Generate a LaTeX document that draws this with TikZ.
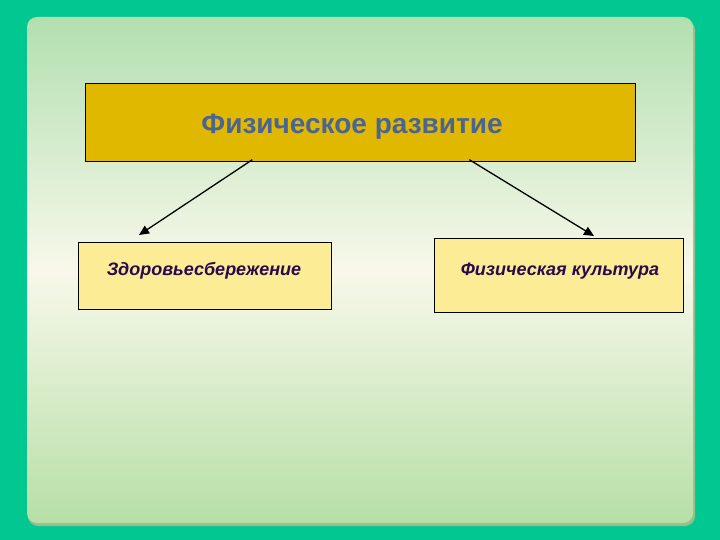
\documentclass[tikz,border=0pt]{standalone}
\usepackage{fontspec}
\setmainfont{Liberation Sans}
\usetikzlibrary{arrows.meta}
\definecolor{outer}{HTML}{00C890}
\definecolor{gtop}{HTML}{B2DFB0}
\definecolor{gmid}{HTML}{F8F8EA}
\definecolor{gbot}{HTML}{B6DFA6}
\definecolor{gold}{HTML}{E0B800}
\definecolor{pale}{HTML}{FCEC96}
\definecolor{ttl}{HTML}{4A6494}
\definecolor{sub}{HTML}{2A0A4A}
\tikzset{box/.style={draw=black,line width=0.7pt,fill=pale},
 arr/.style={-{Triangle[length=10pt,width=9pt]},line width=1.3pt}}
\begin{document}
\begin{tikzpicture}[x=1pt,y=-1pt]
\fill[outer] (0,0) rectangle (720,540);
\useasboundingbox (0,0) rectangle (720,540);
\fill[black!15!gbot,rounded corners=10] (28,20) rectangle (695,526);
\shade[top color=gtop,bottom color=gbot,middle color=gmid,rounded corners=10] (27,17) rectangle (693,523);
\node[draw=black,line width=0.7pt,fill=gold,minimum width=550pt,minimum height=78pt,anchor=north west] (top) at (85,83) {};
\node[text=ttl,font=\bfseries\fontsize{28}{32}\selectfont] (ttext) at (352,127) {Физическое развитие};
\node[box,minimum width=253pt,minimum height=67pt,anchor=north west] (l) at (78,242) {};
\node[text=sub,font=\bfseries\itshape\fontsize{18}{21}\selectfont] (lt) at (204,271) {Здоровьесбережение};
\node[box,minimum width=249pt,minimum height=74pt,anchor=north west] (r) at (434,238) {};
\node[text=sub,font=\bfseries\itshape\fontsize{18}{21}\selectfont] (rt) at (560,271) {Физическая культура};
\coordinate (a1) at ([xshift=-108pt,yshift=2pt]top.south);
\coordinate (a2) at ([xshift=109pt,yshift=2pt]top.south);
\coordinate (b1) at (139,235);
\coordinate (b2) at (594,236);
\draw[arr] (a1) -- (b1);
\draw[arr] (a2) -- (b2);
\end{tikzpicture}
\end{document}
